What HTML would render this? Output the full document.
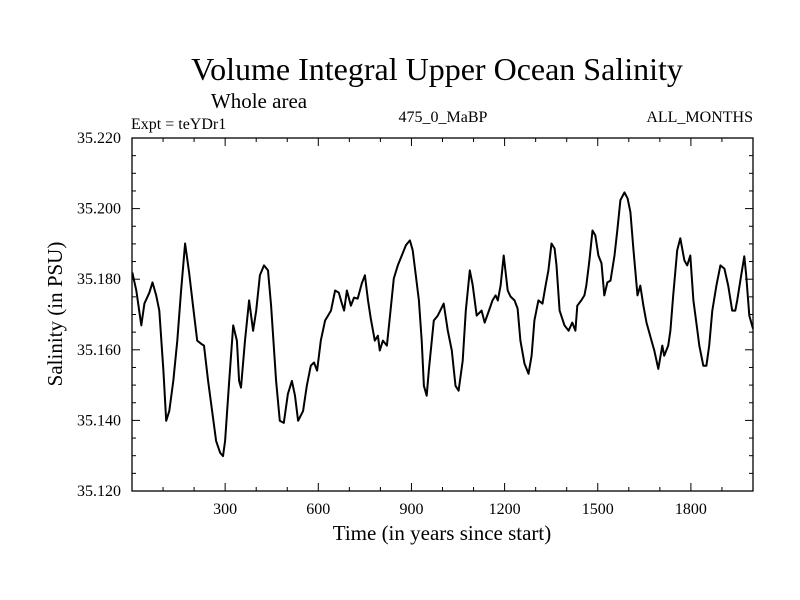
<!DOCTYPE html>
<html><head><meta charset="utf-8"><style>
body{margin:0;background:#fff;}
svg{display:block;font-family:"Liberation Serif",serif;}
</style></head><body>
<svg id="chart" width="800" height="600">
<text x="437" y="80" font-size="32" text-anchor="middle">Volume Integral Upper Ocean Salinity</text>
<text x="259" y="108" font-size="21" text-anchor="middle">Whole area</text>
<text x="131" y="129" font-size="16">Expt = teYDr1</text>
<text x="443" y="122" font-size="16" text-anchor="middle">475_0_MaBP</text>
<text x="753" y="122" font-size="16" text-anchor="end">ALL_MONTHS</text>
<text x="442" y="540" font-size="21" text-anchor="middle">Time (in years since start)</text>
<text transform="translate(62,314) rotate(-90)" font-size="21" text-anchor="middle">Salinity (in PSU)</text>
<g id="axes"></g>
<path id="line" fill="none" stroke="#000" stroke-width="2" stroke-linejoin="round"/>
</svg>
<script>
const years=[1,14,30,40,56,66,78,88,101,110,120,133,146,158,171,184,197,210,223,232,245,258,271,284,293,300,313,326,338,345,351,364,377,390,400,412,425,438,448,464,476,489,502,515,525,535,551,563,576,586,596,608,622,641,654,666,676,683,692,705,715,727,740,750,760,769,782,792,798,808,821,830,843,856,869,882,895,904,914,924,933,940,949,956,972,985,1004,1017,1030,1042,1052,1065,1075,1088,1097,1110,1126,1136,1152,1161,1171,1178,1187,1197,1210,1219,1232,1242,1251,1264,1277,1287,1296,1309,1322,1332,1341,1351,1361,1367,1377,1393,1406,1418,1428,1434,1447,1457,1463,1473,1483,1492,1502,1512,1521,1531,1541,1554,1563,1573,1586,1596,1605,1615,1628,1637,1647,1657,1673,1682,1695,1708,1714,1727,1734,1743,1756,1766,1779,1788,1798,1808,1821,1827,1840,1850,1859,1869,1882,1895,1908,1920,1933,1943,1949,1962,1972,1978,1988,2000];
const salinity=[35.1819,35.1768,35.1669,35.1731,35.1762,35.1791,35.1754,35.1711,35.1541,35.1399,35.1427,35.1512,35.1626,35.1768,35.1901,35.1819,35.1720,35.1626,35.1617,35.1612,35.1512,35.1427,35.1342,35.1308,35.1299,35.1342,35.1512,35.1669,35.1626,35.1512,35.1493,35.1626,35.1740,35.1654,35.1711,35.1811,35.1839,35.1825,35.1725,35.1512,35.1399,35.1393,35.1475,35.1512,35.1470,35.1399,35.1427,35.1498,35.1555,35.1564,35.1541,35.1626,35.1683,35.1711,35.1768,35.1762,35.1731,35.1711,35.1768,35.1725,35.1748,35.1745,35.1788,35.1811,35.1740,35.1688,35.1626,35.1640,35.1598,35.1626,35.1612,35.1688,35.1802,35.1839,35.1867,35.1896,35.1910,35.1882,35.1811,35.1740,35.1626,35.1498,35.1470,35.1541,35.1683,35.1697,35.1731,35.1654,35.1598,35.1498,35.1484,35.1569,35.1711,35.1825,35.1785,35.1697,35.1711,35.1677,35.1717,35.1740,35.1754,35.1740,35.1782,35.1867,35.1768,35.1751,35.1740,35.1717,35.1626,35.1561,35.1532,35.1583,35.1683,35.1740,35.1731,35.1782,35.1825,35.1901,35.1887,35.1839,35.1711,35.1669,35.1654,35.1677,35.1654,35.1725,35.1740,35.1754,35.1782,35.1853,35.1938,35.1924,35.1867,35.1845,35.1754,35.1791,35.1796,35.1867,35.1938,35.2024,35.2046,35.2029,35.1990,35.1882,35.1754,35.1782,35.1725,35.1677,35.1626,35.1598,35.1546,35.1612,35.1583,35.1612,35.1654,35.1754,35.1882,35.1916,35.1853,35.1839,35.1867,35.1740,35.1654,35.1612,35.1555,35.1555,35.1612,35.1711,35.1782,35.1839,35.1830,35.1782,35.1711,35.1711,35.1740,35.1811,35.1865,35.1811,35.1697,35.1660];
const xTickLabels=["300","600","900","1200","1500","1800"];
const yTickLabels=["35.120","35.140","35.160","35.180","35.200","35.220"];
const X0=132,X1=753,Y0=491,Y1=138,XMIN=0,XMAX=2000,YMIN=35.12,YMAX=35.22;
function sx(v){return X0+(v-XMIN)/(XMAX-XMIN)*(X1-X0);}
function sy(v){return Y0-(v-YMIN)/(YMAX-YMIN)*(Y0-Y1);}
const ns="http://www.w3.org/2000/svg";
const g=document.getElementById('axes');
function mk(t,a){const e=document.createElementNS(ns,t);for(const k in a)e.setAttribute(k,a[k]);g.appendChild(e);return e;}
const frame=mk('rect',{x:X0,y:Y1,width:X1-X0,height:Y0-Y1,fill:'none',stroke:'#000','stroke-width':1.3});


for(let v=100;v<XMAX;v+=100){const L=(v%300===0)?8:4;const x=sx(v);
 mk('line',{x1:x,x2:x,y1:Y0,y2:Y0-L,stroke:'#000'});mk('line',{x1:x,x2:x,y1:Y1,y2:Y1+L,stroke:'#000'});}
xTickLabels.forEach(s=>{const t=mk('text',{x:sx(+s),y:Y0+23,'font-size':16,'text-anchor':'middle'});t.textContent=s;
 
 });
for(let i=1;i<20;i++){const v=YMIN+i*0.005;const L=(i%4===0)?8:4;const y=sy(v);
 mk('line',{x1:X0,x2:X0+L,y1:y,y2:y,stroke:'#000'});mk('line',{x1:X1,x2:X1-L,y1:y,y2:y,stroke:'#000'});}
yTickLabels.forEach(s=>{const t=mk('text',{x:X0-11,y:sy(+s)+5,'font-size':16,'text-anchor':'end'});t.textContent=s;
 
 });
document.getElementById('line').setAttribute('d',years.map((y,i)=>(i?'L':'M')+sx(y).toFixed(1)+','+sy(salinity[i]).toFixed(1)).join(''));
</script>
</body></html>
